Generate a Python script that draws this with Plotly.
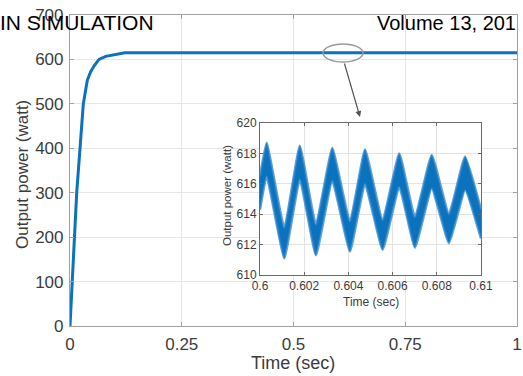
import plotly.graph_objects as go

# ---- main response (Output power vs time) ----
t_main = [0, 0.0051, 0.0096, 0.015, 0.0224, 0.0298, 0.0387, 0.046, 0.0537, 0.0649, 0.0799, 0.0984, 0.123, 0.2, 0.4, 0.6, 0.8, 1.0]
p_main = [0, 100, 200, 300, 400, 500, 553, 572, 585, 600, 607, 611, 615, 615, 615, 615, 615, 615]

# ---- inset ripple band (read at peaks / troughs) ----
t_zoom = [0.6, 0.6003, 0.6011, 0.6018, 0.60253, 0.60327, 0.60407, 0.60475, 0.60555, 0.6063, 0.60701, 0.60777, 0.60855, 0.60928, 0.61]
p_upper = [616.5, 618.7, 613.1, 618.5, 613.3, 618.35, 613.5, 618.25, 613.6, 618.0, 613.8, 617.9, 614.0, 617.8, 614.3]
p_lower = [614.3, 616.5, 611.1, 616.3, 611.3, 616.2, 611.55, 616.0, 611.66, 615.8, 611.8, 615.7, 612.1, 615.6, 612.4]

main_xticks = [0, 0.25, 0.5, 0.75, 1]
main_xlabels = ["0", "0.25", "0.5", "0.75", "1"]
main_yticks = [0, 100, 200, 300, 400, 500, 600, 700]
zoom_xticks = [0.6, 0.602, 0.604, 0.606, 0.608, 0.61]
zoom_xlabels = ["0.6", "0.602", "0.604", "0.606", "0.608", "0.61"]
zoom_yticks = [610, 612, 614, 616, 618, 620]

BLUE = "#0b72bd"
EDGE = "rgba(40,130,200,0.75)"
FONT = "Liberation Sans, Arial, sans-serif"
TICKC = "#3c3c3c"

fig = go.Figure()
fig.add_trace(go.Scatter(x=t_main, y=p_main, mode="lines",
                         line=dict(color=BLUE, width=3),
                         xaxis="x", yaxis="y", showlegend=False, hoverinfo="skip"))
fig.add_trace(go.Scatter(x=t_zoom, y=p_upper, mode="lines",
                         line=dict(color=EDGE, width=2.5, shape="spline", smoothing=0.35),
                         xaxis="x2", yaxis="y2", showlegend=False, hoverinfo="skip"))
fig.add_trace(go.Scatter(x=t_zoom, y=p_lower, mode="lines", fill="tonexty",
                         fillcolor=BLUE,
                         line=dict(color=EDGE, width=2.5, shape="spline", smoothing=0.35),
                         xaxis="x2", yaxis="y2", showlegend=False, hoverinfo="skip"))

W, H = 523, 376
L, R, T, B = 70, 6, 15, 50
pw, ph = W - L - R, H - T - B


def px(x):
    return (x - L) / pw


def py(y):
    return (H - B - y) / ph


fig.update_layout(
    template="none",
    width=W, height=H, autosize=False,
    margin=dict(l=L, r=R, t=T, b=B, pad=0),
    paper_bgcolor="white", plot_bgcolor="white",
    font=dict(family=FONT, color=TICKC),
    xaxis=dict(range=[0, 1], tickvals=main_xticks, ticktext=main_xlabels, automargin=False,
               showgrid=True, gridcolor="#e6e6e6", gridwidth=1,
               showline=True, linecolor="#a0a0a0", linewidth=1.2, mirror="all",
               ticks="inside", ticklen=4, tickcolor="#a0a0a0",
               tickfont=dict(size=17, color=TICKC), zeroline=False,
               ticklabelstandoff=2),
    yaxis=dict(range=[0, 700], tickvals=main_yticks, automargin=False,
               showgrid=True, gridcolor="#e6e6e6", gridwidth=1,
               showline=True, linecolor="#a0a0a0", linewidth=1.2, mirror="all",
               ticks="inside", ticklen=4, tickcolor="#a0a0a0",
               tickfont=dict(size=17, color=TICKC), zeroline=False,
               ticklabelstandoff=2),
    xaxis2=dict(domain=[px(260), px(481)], anchor="y2", range=[0.6, 0.61], automargin=False,
                tickvals=zoom_xticks, ticktext=zoom_xlabels,
                showgrid=True, gridcolor="#e3e3e3",
                showline=True, linecolor="#6a6a6a", linewidth=1, mirror="all",
                ticks="inside", ticklen=3, tickcolor="#6a6a6a",
                tickfont=dict(size=12, color=TICKC), zeroline=False,
                ticklabelstandoff=0),
    yaxis2=dict(domain=[py(275), py(123)], anchor="x2", range=[610, 620], automargin=False,
                tickvals=zoom_yticks,
                showgrid=True, gridcolor="#e3e3e3",
                showline=True, linecolor="#6a6a6a", linewidth=1, mirror="all",
                ticks="inside", ticklen=3, tickcolor="#6a6a6a",
                tickfont=dict(size=12, color=TICKC), zeroline=False,
                ticklabelstandoff=0),
)

# white background for the inset
fig.add_shape(type="rect", xref="x2", yref="y2", x0=0.6, x1=0.61, y0=610, y1=620,
              fillcolor="white", line=dict(width=0), layer="below")

# ellipse highlighting the zoomed region
fig.add_shape(type="circle", xref="paper", yref="paper",
              x0=px(323), x1=px(363), y0=py(62), y1=py(44),
              line=dict(color="#9a9a9a", width=1.5))

annotations = [
    # arrow from ellipse to inset
    dict(x=px(360), y=py(117), xref="paper", yref="paper", ax=-16, ay=-55,
         axref="pixel", ayref="pixel", showarrow=True, arrowhead=2, arrowsize=1,
         arrowwidth=1.2, arrowcolor="#555555", text=""),
    # axis titles
    dict(x=px(293), y=py(363), xref="paper", yref="paper", text="Time (sec)",
         showarrow=False, font=dict(size=18, color=TICKC), xanchor="center", yanchor="middle"),
    dict(x=px(22), y=py(175), xref="paper", yref="paper", text="Output power (watt)",
         textangle=-90, showarrow=False, font=dict(size=17, color=TICKC),
         xanchor="center", yanchor="middle"),
    dict(x=px(371), y=py(302), xref="paper", yref="paper", text="Time (sec)",
         showarrow=False, font=dict(size=12, color=TICKC), xanchor="center", yanchor="middle"),
    dict(x=px(227), y=py(196), xref="paper", yref="paper", text="Output power (watt)",
         textangle=-90, showarrow=False, font=dict(size=11.5, color=TICKC),
         xanchor="center", yanchor="middle"),
    # page header (scanned journal page)
    dict(x=px(-2), y=py(23), xref="paper", yref="paper", text="IN SIMULATION",
         showarrow=False, font=dict(size=21, color="black"), xanchor="left", yanchor="middle"),
    dict(x=px(518), y=py(23), xref="paper", yref="paper", text="Volume 13, 201",
         showarrow=False, font=dict(size=20, color="black"), xanchor="right", yanchor="middle"),
]
fig.update_layout(annotations=annotations)

fig.write_html("out.html", config={"displayModeBar": False},
               post_script="document.body.style.margin='0';document.body.style.overflow='hidden';")
